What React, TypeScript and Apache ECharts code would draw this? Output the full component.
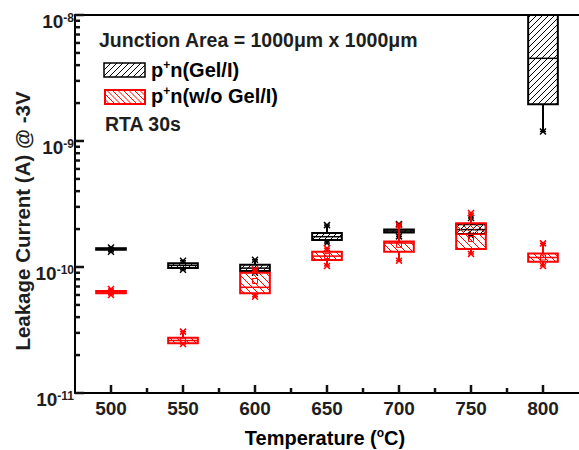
import React, { useEffect, useRef } from 'react';
import * as echarts from 'echarts';

const temps = [500, 550, 600, 650, 700, 750, 800];
const minorX = [525, 575, 625, 675, 725, 775];
const majorY = [1e-11, 1e-10, 1e-9, 1e-8];
const minorY = [
  2e-11, 3e-11, 4e-11, 5e-11, 6e-11, 7e-11, 8e-11, 9e-11,
  2e-10, 3e-10, 4e-10, 5e-10, 6e-10, 7e-10, 8e-10, 9e-10,
  2e-9, 3e-9, 4e-9, 5e-9, 6e-9, 7e-9, 8e-9, 9e-9,
];

// p+n (Gel/I)
const gelLow = [1.32e-10, 0.95e-10, 0.9e-10, 1.55e-10, 1.75e-10, 1.78e-10, 1.19e-9];
const gelQ1 = [1.37e-10, 0.98e-10, 0.93e-10, 1.64e-10, 1.88e-10, 1.83e-10, 1.96e-9];
const gelMed = [1.39e-10, 1.03e-10, 0.98e-10, 1.74e-10, 1.93e-10, 1.98e-10, 4.53e-9];
const gelQ3 = [1.41e-10, 1.07e-10, 1.04e-10, 1.86e-10, 1.98e-10, 2.18e-10, 1.0e-8];
const gelHigh = [1.43e-10, 1.12e-10, 1.14e-10, 2.15e-10, 2.19e-10, 2.45e-10, 1.5e-8];

// p+n (w/o Gel/I)
const redLow = [6.0e-11, 2.45e-11, 5.8e-11, 1.02e-10, 1.12e-10, 1.27e-10, 1.02e-10];
const redQ1 = [6.2e-11, 2.48e-11, 6.18e-11, 1.137e-10, 1.32e-10, 1.39e-10, 1.1e-10];
const redMed = [6.33e-11, 2.61e-11, 6.9e-11, 1.22e-10, 1.55e-10, 1.82e-10, 1.19e-10];
const redQ3 = [6.45e-11, 2.75e-11, 9.0e-11, 1.32e-10, 1.59e-10, 2.22e-10, 1.28e-10];
const redHigh = [6.7e-11, 3.07e-11, 9.6e-11, 1.41e-10, 2.15e-10, 2.68e-10, 1.54e-10];
const redMean = [6.33e-11, 2.61e-11, 7.74e-11, 1.22e-10, 1.5e-10, 1.67e-10, 1.19e-10];

const X_MIN = 475;
const X_MAX = 825;
const Y_MIN = 1e-11;
const Y_MAX = 1e-8;

const FONT = '"Liberation Sans", Arial, Helvetica, sans-serif';
const TXT = '#1e1e1e';

function hatch(x0: number, y0: number, x1: number, y1: number, step: number, fwd: boolean, color: string, lw: number) {
  const out: any[] = [];
  if (fwd) {
    const start = Math.ceil((x0 + y0) / step) * step;
    for (let c = start; c < x1 + y1; c += step) {
      const xa = Math.max(x0, c - y1);
      const xb = Math.min(x1, c - y0);
      if (xb - xa > 0.4) {
        out.push({ type: 'line', silent: true, shape: { x1: xa, y1: c - xa, x2: xb, y2: c - xb }, style: { stroke: color, lineWidth: lw } });
      }
    }
  } else {
    const start = Math.ceil((x0 - y1) / step) * step;
    for (let c = start; c < x1 - y0; c += step) {
      const xa = Math.max(x0, c + y0);
      const xb = Math.min(x1, c + y1);
      if (xb - xa > 0.4) {
        out.push({ type: 'line', silent: true, shape: { x1: xa, y1: xa - c, x2: xb, y2: xb - c }, style: { stroke: color, lineWidth: lw } });
      }
    }
  }
  return out;
}

function makeRender(color: string, fwd: boolean, step: number, showMean: boolean) {
  return (params: any, api: any) => {
    const x = api.value(0);
    const low = api.value(1), q1 = api.value(2), med = api.value(3), q3 = api.value(4), high = api.value(5), mean = api.value(6);
    const cx = api.coord([x, med])[0];
    const hw = api.coord([x + 10.3, med])[0] - cx;
    const yOf = (v: number) => api.coord([x, v])[1];
    const yL = yOf(low), y1 = yOf(q1), yM = yOf(med), y3 = yOf(q3), yH = yOf(high);
    const ls = (w: number) => ({ stroke: color, lineWidth: w, fill: 'none' });
    const children: any[] = [];
    children.push(...hatch(cx - hw, y3, cx + hw, y1, step, fwd, color, 1));
    children.push({ type: 'line', shape: { x1: cx, y1: y3, x2: cx, y2: yH }, style: ls(2) });
    children.push({ type: 'line', shape: { x1: cx, y1: y1, x2: cx, y2: yL }, style: ls(2) });
    children.push({ type: 'rect', shape: { x: cx - hw, y: y3, width: 2 * hw, height: y1 - y3 }, style: { stroke: color, lineWidth: 2, fill: null } });
    children.push({ type: 'line', shape: { x1: cx - hw, y1: yM, x2: cx + hw, y2: yM }, style: ls(1.5) });
    [yL, yH].forEach((yy) => {
      const s = 3;
      children.push({ type: 'line', shape: { x1: cx - s, y1: yy - s, x2: cx + s, y2: yy + s }, style: ls(1.5) });
      children.push({ type: 'line', shape: { x1: cx - s, y1: yy + s, x2: cx + s, y2: yy - s }, style: ls(1.5) });
      children.push({ type: 'line', shape: { x1: cx - s, y1: yy, x2: cx + s, y2: yy }, style: ls(1.5) });
    });
    if (showMean) {
      const ym = yOf(mean);
      children.push({ type: 'rect', shape: { x: cx - 2.5, y: ym - 2.5, width: 5, height: 5 }, style: { stroke: color, lineWidth: 1, fill: null } });
    }
    return { type: 'group', children };
  };
}

export default function App() {
  const ref = useRef<HTMLDivElement>(null);
  useEffect(() => {
    if (!ref.current) return;
    const chart = echarts.init(ref.current, null, { renderer: 'svg' });
    const gelData = temps.map((t, i) => [t, gelLow[i], gelQ1[i], gelMed[i], gelQ3[i], gelHigh[i], gelMed[i]]);
    const redData = temps.map((t, i) => [t, redLow[i], redQ1[i], redMed[i], redQ3[i], redHigh[i], redMean[i]]);

    const supRich = {
      b: { fontSize: 19, fontWeight: 'bold', fontFamily: FONT, color: TXT, lineHeight: 20 },
      s: { fontSize: 12, fontWeight: 'bold', fontFamily: FONT, color: TXT, verticalAlign: 'top', lineHeight: 12 },
    };
    const legRich = {
      a: { fontSize: 20, fontWeight: 'bold', fontFamily: FONT, color: TXT, lineHeight: 22 },
      s: { fontSize: 12, fontWeight: 'bold', fontFamily: FONT, color: TXT, verticalAlign: 'top', lineHeight: 12 },
    };

    const legendGraphics: any[] = [
      { type: 'text', x: 99, y: 39.5, style: { text: 'Junction Area = 1000μm x 1000μm', fontSize: 19.5, fontWeight: 'bold', fontFamily: FONT, fill: TXT, align: 'left', verticalAlign: 'middle', textAlign: 'left', textVerticalAlign: 'middle' } },
      ...hatch(104, 63, 145, 77, 6, true, '#000', 1),
      { type: 'rect', shape: { x: 104, y: 63, width: 41, height: 14 }, style: { stroke: '#000', lineWidth: 1.5, fill: null } },
      { type: 'text', x: 151, y: 70, style: { text: '{a|p}{s|+}{a|n(Gel/I)}', rich: legRich, align: 'left', verticalAlign: 'middle', textAlign: 'left', textVerticalAlign: 'middle' } },
      ...hatch(105, 90, 145, 104, 5.5, false, '#ff0000', 1),
      { type: 'rect', shape: { x: 105, y: 90, width: 40, height: 14 }, style: { stroke: '#ff0000', lineWidth: 2, fill: null } },
      { type: 'text', x: 151, y: 96, style: { text: '{a|p}{s|+}{a|n(w/o Gel/I)}', rich: legRich, align: 'left', verticalAlign: 'middle', textAlign: 'left', textVerticalAlign: 'middle' } },
      { type: 'text', x: 105, y: 123.5, style: { text: 'RTA 30s', fontSize: 19.5, fontWeight: 'bold', fontFamily: FONT, fill: TXT, align: 'left', verticalAlign: 'middle', textAlign: 'left', textVerticalAlign: 'middle' } },
      { type: 'text', x: 22, y: 221, rotation: Math.PI / 2, style: { text: 'Leakage Current (A) @ -3V', fontSize: 20.5, fontWeight: 'bold', fontFamily: FONT, fill: TXT, align: 'center', verticalAlign: 'middle', textAlign: 'center', textVerticalAlign: 'middle' } },
      { type: 'text', x: 325, y: 438, style: { text: '{a|Temperature (}{s|o}{a|C)}', rich: legRich, align: 'center', verticalAlign: 'middle', textAlign: 'center', textVerticalAlign: 'middle' } },
    ];

    const axisLineStyle = { color: '#000', width: 2 };
    chart.setOption({
      animation: false,
      backgroundColor: '#fff',
      grid: { left: 75, top: 15, right: -4, bottom: 57, containLabel: false },
      xAxis: [
        {
          type: 'value', min: X_MIN, max: X_MAX, position: 'bottom',
          axisLine: { show: true, onZero: false, lineStyle: axisLineStyle },
          axisTick: { show: false },
          axisLabel: { show: true, customValues: temps, fontSize: 19, fontWeight: 'bold', fontFamily: FONT, color: TXT, margin: 6 },
          splitLine: { show: false },
        },
        {
          type: 'value', min: X_MIN, max: X_MAX, position: 'top',
          axisLine: { show: true, onZero: false, lineStyle: axisLineStyle },
          axisTick: { show: false },
          axisLabel: { show: false },
          splitLine: { show: false },
        },
      ],
      yAxis: [
        {
          type: 'log', logBase: 10, min: Y_MIN, max: Y_MAX, position: 'left',
          axisLine: { show: true, onZero: false, lineStyle: axisLineStyle },
          axisTick: { show: false },
          axisLabel: {
            show: true,
            customValues: majorY,
            margin: 1,
            padding: [13, 0, 0, 0],
            formatter: (v: number) => `{b|10}{s|${Math.round(Math.log10(v))}}`,
            rich: supRich,
          },
          splitLine: { show: false },
        },
      ],
      graphic: legendGraphics,
      series: [
        {
          type: 'custom', name: 'p+n(Gel/I)', xAxisIndex: 0, yAxisIndex: 0, clip: true,
          renderItem: makeRender('#000', true, 6, false),
          encode: { x: 0, y: [1, 2, 3, 4, 5] },
          data: gelData,
        },
        {
          type: 'custom', name: 'p+n(w/o Gel/I)', xAxisIndex: 0, yAxisIndex: 0, clip: true,
          renderItem: makeRender('#ff0000', false, 7, true),
          encode: { x: 0, y: [1, 2, 3, 4, 5] },
          data: redData,
        },
      ],
    });

    // tick marks placed through the chart's own axis scales
    const toPx = (x: number, y: number) => chart.convertToPixel({ gridIndex: 0 }, [x, y]) as number[];
    const tickLines: any[] = [];
    const xTick = (v: number, len: number) => {
      const p = toPx(v, Y_MIN);
      tickLines.push({ type: 'line', z: 50, shape: { x1: p[0], y1: p[1], x2: p[0], y2: p[1] - len }, style: { stroke: '#111111', lineWidth: 2.5 } });
    };
    const yTick = (v: number, len: number) => {
      const p = toPx(X_MIN, v);
      tickLines.push({ type: 'line', z: 50, shape: { x1: p[0], y1: p[1], x2: p[0] + len, y2: p[1] }, style: { stroke: '#111111', lineWidth: 2.5 } });
    };
    temps.forEach((v) => xTick(v, 8));
    minorX.forEach((v) => xTick(v, 5));
    majorY.forEach((v) => yTick(v, 9));
    minorY.forEach((v) => yTick(v, 5));
    chart.setOption({ graphic: [...legendGraphics, ...tickLines] });

    return () => chart.dispose();
  }, []);
  return <div ref={ref} style={{ position: 'fixed', left: 0, top: 0, width: 579, height: 450 }} />;
}
